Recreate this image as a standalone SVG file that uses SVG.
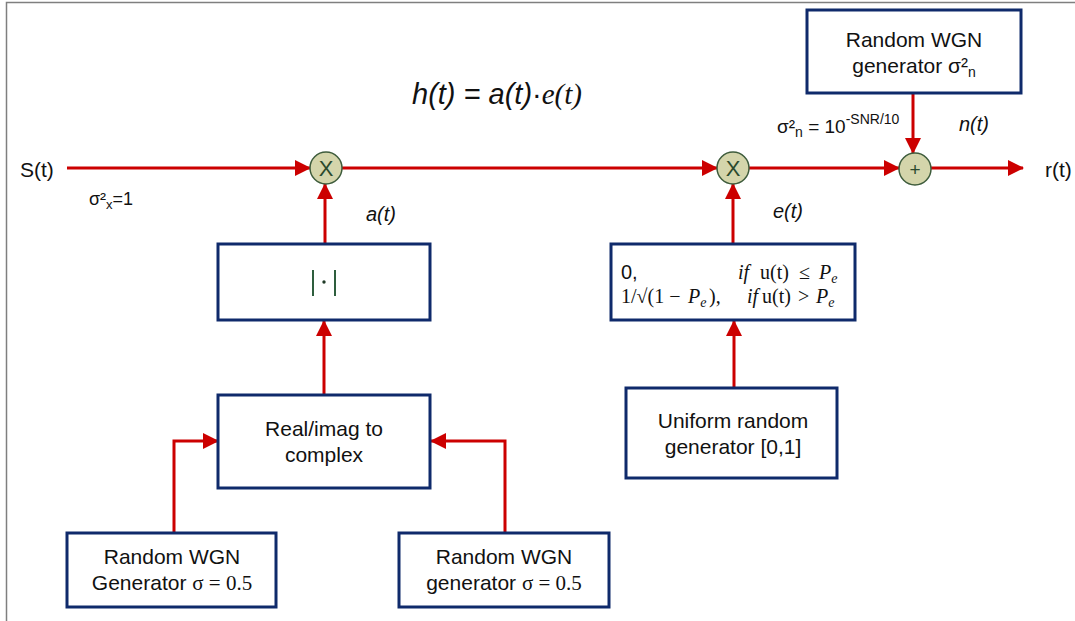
<svg xmlns="http://www.w3.org/2000/svg" width="1075" height="621" viewBox="0 0 1075 621">
  <defs>
    <marker id="arr" viewBox="0 0 16 16" refX="15" refY="8" markerWidth="16" markerHeight="16" markerUnits="userSpaceOnUse" orient="auto">
      <path d="M0,0 L16,8 L0,16 z" fill="#cc0000"/>
    </marker>
    <style>
      .wire { stroke: #cc0000; stroke-width: 3; fill: none; }
      .box { fill: #ffffff; stroke: #0f2a6b; stroke-width: 3; }
      .op { fill: #d4d5ab; stroke: #3e5c3c; stroke-width: 1.5; }
      .lbl { font-family: "Liberation Sans", Arial, sans-serif; font-size: 21px; fill: #111111; }
      .mid { text-anchor: middle; }
      .ser { font-family: "Liberation Serif", "Times New Roman", serif; }
      .it { font-style: italic; }
      .opt { font-family: "Liberation Sans", Arial, sans-serif; font-size: 22px; fill: #2b4a2e; text-anchor: middle; }
    </style>
  </defs>

  <rect width="1075" height="621" fill="#ffffff"/>
  <!-- outer frame (left and top edges only) -->
  <path d="M6.5,621 V2.5 H1075" fill="none" stroke="#7f7f7f" stroke-width="1.5"/>

  <!-- connectors -->
  <g id="connectors">
    <path class="wire" d="M67,168 H310" marker-end="url(#arr)"/>
    <path class="wire" d="M342,168 H717" marker-end="url(#arr)"/>
    <path class="wire" d="M749,168 H899" marker-end="url(#arr)"/>
    <path class="wire" d="M931,168 H1023" marker-end="url(#arr)"/>
    <path class="wire" d="M913,93 V153" marker-end="url(#arr)"/>
    <path class="wire" d="M325,244 V184" marker-end="url(#arr)"/>
    <path class="wire" d="M324,395 V321" marker-end="url(#arr)"/>
    <path class="wire" d="M174,532 V441 H218" marker-end="url(#arr)"/>
    <path class="wire" d="M505,532 V441 H431" marker-end="url(#arr)"/>
    <path class="wire" d="M733,244 V184" marker-end="url(#arr)"/>
    <path class="wire" d="M734,388 V321" marker-end="url(#arr)"/>
  </g>

  <!-- multiplier a(t) -->
  <g id="mult1">
    <circle class="op" cx="326" cy="168" r="16"/>
    <text class="opt" x="326" y="176">X</text>
  </g>

  <!-- multiplier e(t) -->
  <g id="mult2">
    <circle class="op" cx="733" cy="168" r="16"/>
    <text class="opt" x="733" y="176">X</text>
  </g>

  <!-- adder n(t) -->
  <g id="adder">
    <circle class="op" cx="915" cy="169" r="16"/>
    <text class="opt" x="915" y="176" style="font-size:19px">+</text>
  </g>

  <!-- noise source -->
  <g id="noise-gen">
    <rect class="box" x="807" y="10" width="214" height="83"/>
    <text class="lbl mid" x="914" y="47">Random WGN</text>
    <text class="lbl mid" x="914" y="73">generator σ²<tspan font-size="14" dy="4">n</tspan></text>
  </g>

  <!-- magnitude block -->
  <g id="abs">
    <rect class="box" x="218" y="244" width="212" height="76"/>
    <path d="M313,270 V296 M335,270 V296" stroke="#2e5e3e" stroke-width="2"/>
    <circle cx="324" cy="282" r="1.7" fill="#1f3a26"/>
  </g>

  <!-- real/imag combiner -->
  <g id="realimag">
    <rect class="box" x="218" y="395" width="212" height="93"/>
    <text class="lbl mid" x="324" y="436">Real/imag to</text>
    <text class="lbl mid" x="324" y="462">complex</text>
  </g>

  <!-- left gaussian source -->
  <g id="gen-re">
    <rect class="box" x="67" y="533" width="209" height="74"/>
    <text class="lbl mid" x="172" y="564">Random WGN</text>
    <text class="lbl mid" x="172" y="590">Generator <tspan class="ser">σ = 0.5</tspan></text>
  </g>

  <!-- right gaussian source -->
  <g id="gen-im">
    <rect class="box" x="399" y="533" width="210" height="74"/>
    <text class="lbl mid" x="504" y="564">Random WGN</text>
    <text class="lbl mid" x="504" y="590">generator <tspan class="ser">σ = 0.5</tspan></text>
  </g>

  <!-- erasure mapping -->
  <g id="erasure">
    <rect class="box" x="611" y="244" width="244" height="76"/>
    <text class="lbl" x="621" y="279" style="font-size:20px">0,</text>
    <text class="lbl ser" y="279" style="font-size:20px"><tspan class="it" x="738">if</tspan><tspan x="760">u(t)</tspan><tspan x="799">≤</tspan><tspan class="it" x="819">P</tspan><tspan class="it" font-size="14" dy="4">e</tspan></text>
    <text class="lbl ser" y="303" style="font-size:20px"><tspan x="621">1/√(1 −</tspan><tspan class="it" x="688">P</tspan><tspan class="it" font-size="14" dy="4">e</tspan><tspan dy="-4" x="709">),</tspan><tspan class="it" x="747">if</tspan><tspan x="762">u(t)</tspan><tspan x="798">&gt;</tspan><tspan class="it" x="816">P</tspan><tspan class="it" font-size="14" dy="4">e</tspan></text>
  </g>

  <!-- uniform source -->
  <g id="uniform">
    <rect class="box" x="626" y="388" width="211" height="90"/>
    <text class="lbl mid" x="733" y="428">Uniform random</text>
    <text class="lbl mid" x="733" y="454">generator [0,1]</text>
  </g>

  <!-- signal labels -->
  <g id="labels">
    <text class="lbl" x="20" y="177">S(t)</text>
    <text class="lbl" x="1045" y="177">r(t)</text>
    <text class="lbl" x="89" y="205" style="font-size:18px">σ²<tspan font-size="13" dy="4">x</tspan><tspan dy="-4">=1</tspan></text>
    <text class="lbl it" x="366" y="221" style="font-size:20px">a(t)</text>
    <text class="lbl it" x="773" y="218" style="font-size:20px">e(t)</text>
    <text class="lbl it" x="959" y="131" style="font-size:20px">n(t)</text>
    <text class="lbl" x="777" y="133" style="font-size:19px">σ²<tspan font-size="14" dy="4">n</tspan><tspan dy="-4"> = 10</tspan><tspan font-size="14" dy="-9">-SNR/10</tspan></text>
    <text class="lbl it" x="412" y="104" style="font-size:29px">h(t) = a(t)<tspan font-style="normal">·</tspan><tspan class="ser">e(t)</tspan></text>
  </g>
</svg>
